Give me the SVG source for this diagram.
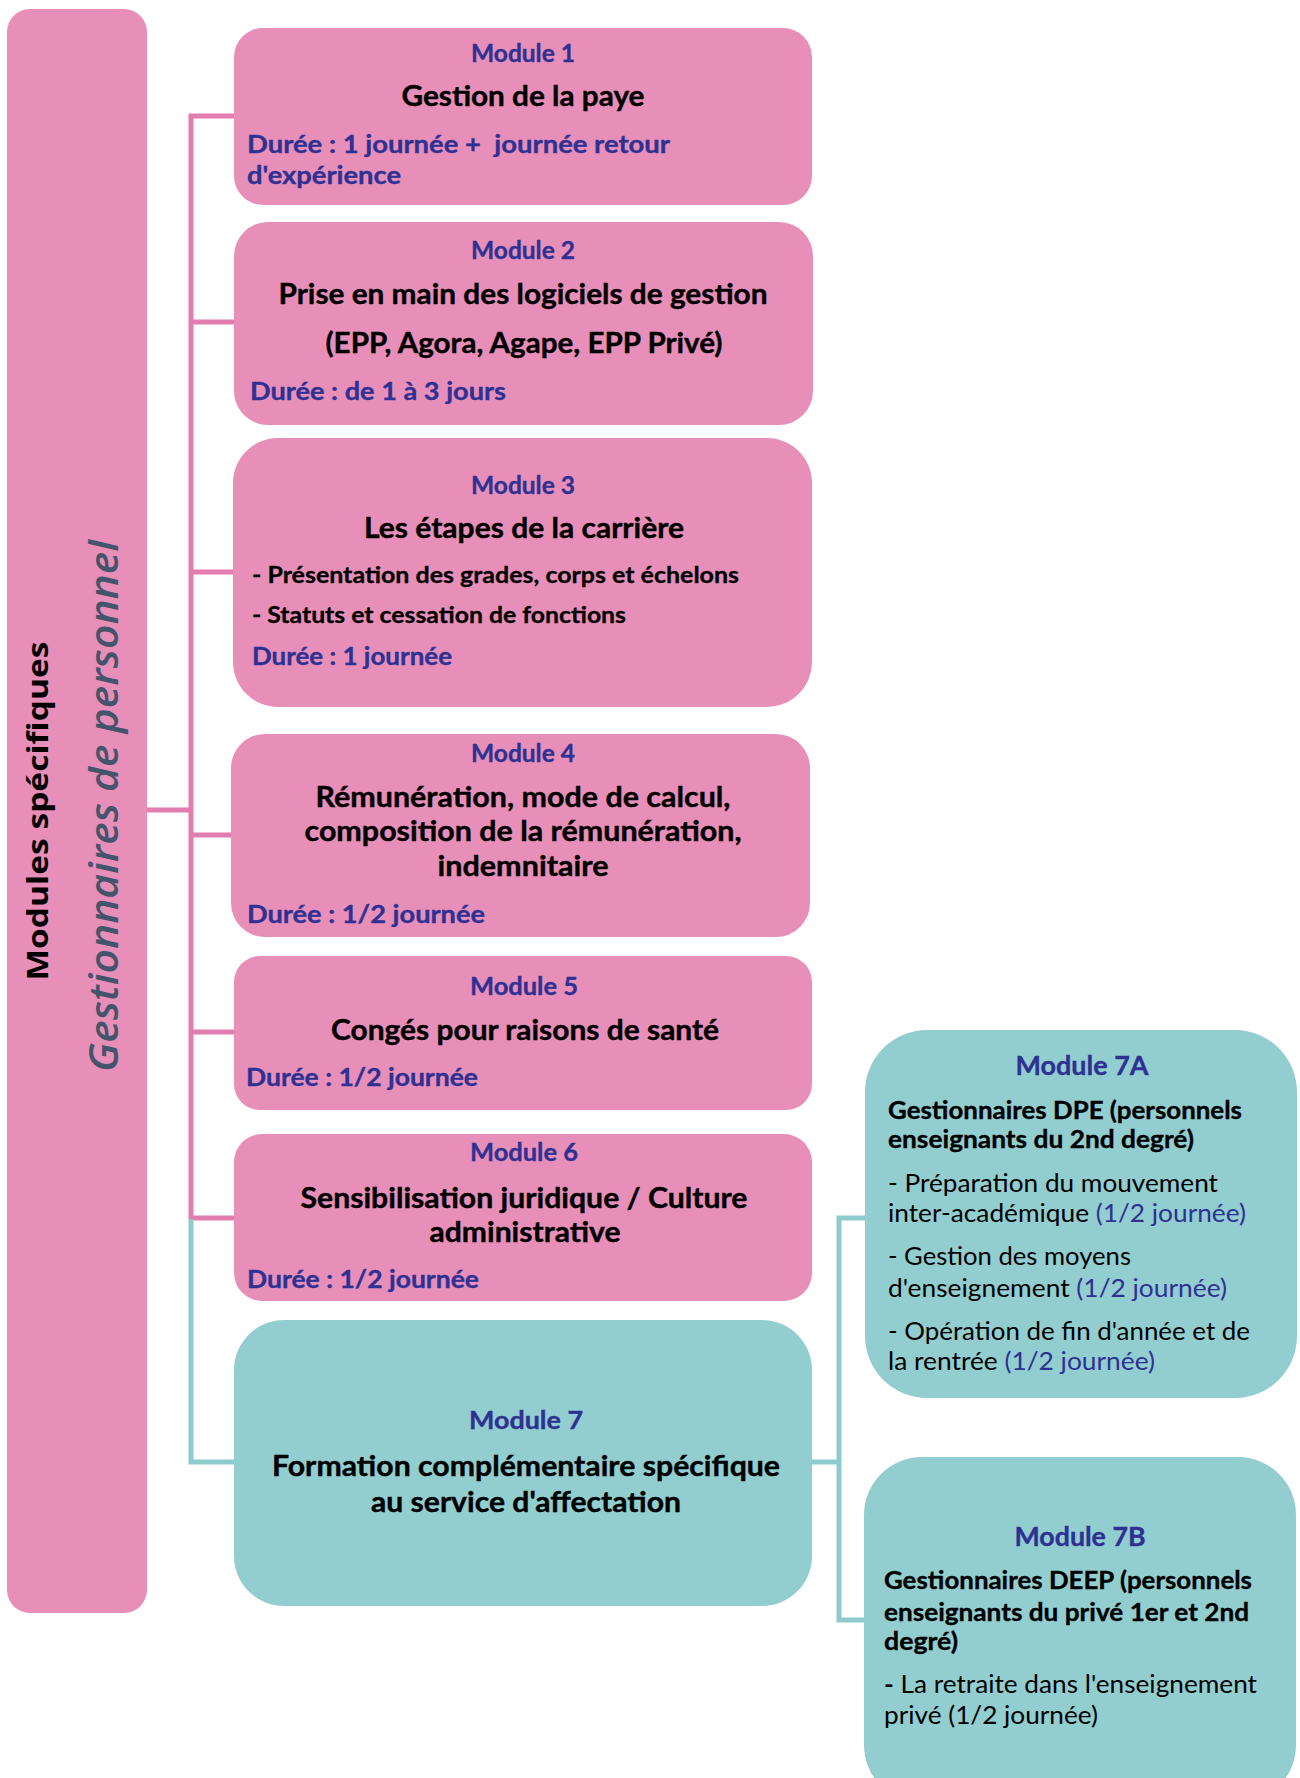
<svg xmlns="http://www.w3.org/2000/svg" width="1300" height="1778" viewBox="0 0 1300 1778">
<defs>
<style>
.pink{fill:#E88FB9}
.teal{fill:#92CDCF}
.cp{fill:none;stroke:#E27DB0;stroke-width:5}
.ct{fill:none;stroke:#8ECBCF;stroke-width:5}
text{font-family:Lato,"Open Sans",sans-serif}
.lbl{font-weight:700;fill:#2E3192;stroke:#2E3192;stroke-width:0.35;font-size:24px;text-anchor:middle}
.ttl{font-weight:700;fill:#000;stroke:#000;stroke-width:0.4;font-size:28.5px;text-anchor:middle}
.dur{font-weight:700;fill:#2E3192;stroke:#2E3192;stroke-width:0.35;font-size:24.5px}
.bul{font-weight:700;fill:#000;stroke:#000;stroke-width:0.3;font-size:23.5px}
.lbl2{font-weight:700;fill:#2E3192;stroke:#2E3192;stroke-width:0.35;font-size:26px;text-anchor:middle}
.b2{font-weight:700;fill:#000;stroke:#000;stroke-width:0.35;font-size:24.5px}
.r2{font-weight:400;fill:#000;font-size:25.5px}
.nv{fill:#2E3192}
.side1{font-family:"Open Sans",sans-serif;font-weight:700;font-size:28px;fill:#000;text-anchor:middle}
.side2{font-family:"Open Sans",sans-serif;font-style:italic;font-weight:600;font-size:39px;fill:#44546A;text-anchor:middle}
</style>
</defs>

<g id="connectors">
<path class="cp" d="M147,810 H191 M234,116 H191 V1219 M191,322 H234 M191,572 H234 M191,835 H234 M191,1032 H234 M191,1218 H234"/>
<path class="ct" d="M191,1219 V1462 H234 M812,1462 H839 M865,1218 H839 V1620 H864"/>
</g>

<g id="root">
<rect class="pink" x="7" y="9" width="140" height="1604" rx="23"/>
<text class="side1" transform="translate(48,811) rotate(-90)" textLength="339" lengthAdjust="spacingAndGlyphs">Modules spécifiques</text>
<text class="side2" transform="translate(118,806) rotate(-90)" textLength="532" lengthAdjust="spacingAndGlyphs">Gestionnaires de personnel</text>
</g>

<g id="module1">
<rect class="pink" x="234" y="28" width="578" height="177" rx="29"/>
<text class="lbl" x="523" y="62" textLength="104" lengthAdjust="spacingAndGlyphs">Module 1</text>
<text class="ttl" x="523" y="106" textLength="243" lengthAdjust="spacingAndGlyphs">Gestion de la paye</text>
<text class="dur" x="247" y="153" textLength="423" lengthAdjust="spacingAndGlyphs" xml:space="preserve">Durée : 1 journée +  journée retour</text>
<text class="dur" x="247" y="184" textLength="154" lengthAdjust="spacingAndGlyphs">d'expérience</text>
</g>

<g id="module2">
<rect class="pink" x="234" y="222" width="579" height="203" rx="34"/>
<text class="lbl" x="523" y="259" textLength="104" lengthAdjust="spacingAndGlyphs">Module 2</text>
<text class="ttl" x="523" y="304" textLength="489" lengthAdjust="spacingAndGlyphs">Prise en main des logiciels de gestion</text>
<text class="ttl" x="524" y="353" textLength="397" lengthAdjust="spacingAndGlyphs">(EPP, Agora, Agape, EPP Privé)</text>
<text class="dur" x="250" y="400" textLength="256" lengthAdjust="spacingAndGlyphs">Durée : de 1 à 3 jours</text>
</g>

<g id="module3">
<rect class="pink" x="233" y="438" width="579" height="269" rx="45"/>
<text class="lbl" x="523" y="494" textLength="104" lengthAdjust="spacingAndGlyphs">Module 3</text>
<text class="ttl" x="524" y="538" textLength="320" lengthAdjust="spacingAndGlyphs">Les étapes de la carrière</text>
<text class="bul" x="252" y="583" textLength="487" lengthAdjust="spacingAndGlyphs">- Présentation des grades, corps et échelons</text>
<text class="bul" x="252" y="623" textLength="374" lengthAdjust="spacingAndGlyphs">- Statuts et cessation de fonctions</text>
<text class="dur" x="252" y="665" textLength="200" lengthAdjust="spacingAndGlyphs">Durée : 1 journée</text>
</g>

<g id="module4">
<rect class="pink" x="231" y="734" width="579" height="203" rx="34"/>
<text class="lbl" x="523" y="762" textLength="104" lengthAdjust="spacingAndGlyphs">Module 4</text>
<text class="ttl" x="523" y="807" textLength="415" lengthAdjust="spacingAndGlyphs">Rémunération, mode de calcul,</text>
<text class="ttl" x="523" y="841" textLength="437" lengthAdjust="spacingAndGlyphs">composition de la rémunération,</text>
<text class="ttl" x="523" y="876" textLength="171" lengthAdjust="spacingAndGlyphs">indemnitaire</text>
<text class="dur" x="247" y="923" textLength="238" lengthAdjust="spacingAndGlyphs">Durée : 1/2 journée</text>
</g>

<g id="module5">
<rect class="pink" x="234" y="956" width="578" height="154" rx="26"/>
<text class="lbl" x="524" y="995" textLength="108" lengthAdjust="spacingAndGlyphs">Module 5</text>
<text class="ttl" x="525" y="1040" textLength="388" lengthAdjust="spacingAndGlyphs">Congés pour raisons de santé</text>
<text class="dur" x="246" y="1086" textLength="232" lengthAdjust="spacingAndGlyphs">Durée : 1/2 journée</text>
</g>

<g id="module6">
<rect class="pink" x="234" y="1134" width="578" height="167" rx="28"/>
<text class="lbl" x="524" y="1161" textLength="108" lengthAdjust="spacingAndGlyphs">Module 6</text>
<text class="ttl" x="524" y="1208" textLength="447" lengthAdjust="spacingAndGlyphs">Sensibilisation juridique / Culture</text>
<text class="ttl" x="525" y="1242" textLength="191" lengthAdjust="spacingAndGlyphs">administrative</text>
<text class="dur" x="247" y="1288" textLength="232" lengthAdjust="spacingAndGlyphs">Durée : 1/2 journée</text>
</g>

<g id="module7">
<rect class="teal" x="234" y="1320" width="578" height="286" rx="50"/>
<text class="lbl" x="526" y="1429" textLength="114" lengthAdjust="spacingAndGlyphs">Module 7</text>
<text class="ttl" x="526" y="1476" textLength="508" lengthAdjust="spacingAndGlyphs">Formation complémentaire spécifique</text>
<text class="ttl" x="526" y="1512" textLength="310" lengthAdjust="spacingAndGlyphs">au service d'affectation</text>
</g>

<g id="module7A">
<rect class="teal" x="865" y="1030" width="432" height="368" rx="62"/>
<text class="lbl2" x="1082" y="1075" textLength="133" lengthAdjust="spacingAndGlyphs">Module 7A</text>
<text class="b2" x="888" y="1119" textLength="354" lengthAdjust="spacingAndGlyphs">Gestionnaires DPE (personnels</text>
<text class="b2" x="888" y="1148" textLength="306" lengthAdjust="spacingAndGlyphs">enseignants du 2nd degré)</text>
<text class="r2" x="888" y="1192" textLength="330" lengthAdjust="spacingAndGlyphs">- Préparation du mouvement</text>
<text class="r2" x="888" y="1222" textLength="358" lengthAdjust="spacingAndGlyphs">inter-académique <tspan class="nv">(1/2 journée)</tspan></text>
<text class="r2" x="888" y="1265" textLength="243" lengthAdjust="spacingAndGlyphs">- Gestion des moyens</text>
<text class="r2" x="888" y="1297" textLength="339" lengthAdjust="spacingAndGlyphs">d'enseignement <tspan class="nv">(1/2 journée)</tspan></text>
<text class="r2" x="888" y="1340" textLength="362" lengthAdjust="spacingAndGlyphs">- Opération de fin d'année et de</text>
<text class="r2" x="888" y="1370" textLength="267" lengthAdjust="spacingAndGlyphs">la rentrée <tspan class="nv">(1/2 journée)</tspan></text>
</g>

<g id="module7B">
<rect class="teal" x="864" y="1457" width="432" height="346" rx="58"/>
<text class="lbl2" x="1080" y="1546" textLength="131" lengthAdjust="spacingAndGlyphs">Module 7B</text>
<text class="b2" x="884" y="1589" textLength="368" lengthAdjust="spacingAndGlyphs">Gestionnaires DEEP (personnels</text>
<text class="b2" x="884" y="1621" textLength="365" lengthAdjust="spacingAndGlyphs">enseignants du privé 1er et 2nd</text>
<text class="b2" x="884" y="1650" textLength="74" lengthAdjust="spacingAndGlyphs">degré)</text>
<text class="r2" x="884" y="1693" textLength="373" lengthAdjust="spacingAndGlyphs"><tspan font-weight="700">-</tspan> La retraite dans l'enseignement</text>
<text class="r2" x="884" y="1724" textLength="214" lengthAdjust="spacingAndGlyphs">privé (1/2 journée)</text>
</g>
</svg>
